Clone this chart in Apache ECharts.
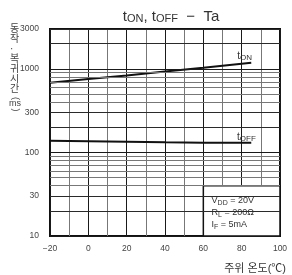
<!DOCTYPE html>
<html>
<head>
<meta charset="utf-8">
<script src="https://cdn.jsdelivr.net/npm/echarts@6/dist/echarts.min.js"></script>
<style>
  html, body { margin: 0; padding: 0; background: #fff; }
  #chart { width: 292px; height: 275px; }
</style>
</head>
<body>
<div id="chart"></div>
<script>
// 주위 온도 (°C)
var temps = [-20, 0, 20, 40, 60, 85];
// 동작 시간 t_ON
var tOn = [680, 755, 835, 930, 1030, 1180];
// 복귀 시간 t_OFF
var tOff = [138, 136, 134, 132, 131, 131];

var xLabels = [-20, 0, 20, 40, 60, 80, 100];
var yLabels = [10, 30, 100, 300, 1000, 3000];
var yGrid = [10, 20, 30, 40, 50, 60, 70, 80, 90,
             100, 200, 300, 400, 500, 600, 700, 800, 900,
             1000, 2000, 3000];

var FONT = "'Liberation Sans', 'Noto Sans CJK KR', sans-serif";

function fmtX(v) {
   if (xLabels.indexOf(v) < 0) return '';
   return v < 0 ? '\u2212' + (-v) : String(v);
}

function gridColor(v) {
   var lead = Math.round(v / Math.pow(10, Math.floor(Math.log10(v) + 1e-9)));
   if (lead === 1) return '#1a1a1a';
   if (lead === 2 || lead === 3) return '#2a2a2a';
   return '#777';
}

var gridLines = yGrid.map(function (v) {
   var hasLabel = yLabels.indexOf(v) >= 0;
   return {
      yAxis: v,
      lineStyle: { color: gridColor(v), width: 1, type: 'solid' },
      label: { show: hasLabel, formatter: String(v) }
   };
});

var subRich = {
   s: { fontSize: 8, verticalAlign: 'bottom', padding: [3, 0, 0, 0], color: '#333', fontFamily: FONT },
   t: { fontSize: 10, color: '#333', fontFamily: FONT }
};

// 세로 축 제목의 괄호 (옆으로 눕힌 모양)
function sideText(txt, y, rot) {
   return {
      type: 'text', x: 15, y: y, rotation: rot, silent: true,
      style: { text: txt, font: '9px ' + FONT, fill: '#444', align: 'center', verticalAlign: 'middle' }
   };
}

var option = {
   animation: false,
   textStyle: { fontFamily: FONT },
   title: {
      text: '{t|t}{s|ON}{t|, t}{s|OFF}{t|  \u2212  Ta}',
      left: 166,
      textAlign: 'center',
      top: 4,
      textStyle: {
         fontWeight: 'normal',
         rich: {
            t: { fontSize: 15, color: '#333', fontWeight: 'normal', fontFamily: FONT },
            s: { fontSize: 11, color: '#333', fontWeight: 'normal', verticalAlign: 'bottom', padding: [4, 0, 0, 0], fontFamily: FONT }
         }
      }
   },
   graphic: [
      {
         type: 'text',
         left: 10,
         top: 24,
         silent: true,
         style: {
            text: '동\n작\n·\n복\n귀\n시\n간',
            font: '10px ' + FONT,
            lineHeight: 10,
            fill: '#444',
            align: 'center'
         }
      },
      sideText('(', 98.5, -Math.PI / 2),
      sideText('ms', 104, 0),
      sideText(')', 110, -Math.PI / 2)
   ],
   grid: {
      left: 50, top: 29, width: 230, height: 207,
      show: true,
      borderColor: '#111',
      borderWidth: 2,
      backgroundColor: '#fff'
   },
   xAxis: {
      type: 'value',
      min: -20, max: 100, interval: 10,
      name: '주위 온도(℃)',
      nameLocation: 'end',
      nameGap: 6,
      nameTextStyle: {
         align: 'right', verticalAlign: 'top',
         padding: [27, 0, 0, 0],
         fontSize: 11, color: '#333'
      },
      axisLine: { show: false },
      axisTick: { show: false },
      axisLabel: { formatter: fmtX, fontSize: 8.5, color: '#444', margin: 8 },
      splitLine: { show: true, lineStyle: { color: ['#1a1a1a', '#777'], width: 1 } }
   },
   yAxis: {
      type: 'log', logBase: 10,
      min: 10, max: 3000,
      axisLine: { show: false },
      axisTick: { show: false },
      axisLabel: { show: false },
      splitLine: { show: false }
   },
   series: [
      {
         name: 'grid',
         type: 'line',
         data: [],
         z: 1,
         silent: true,
         markLine: {
            silent: true,
            symbol: 'none',
            animation: false,
            label: { position: 'start', distance: 11, fontSize: 8.5, color: '#444' },
            data: gridLines
         },
         markArea: {
            silent: true,
            itemStyle: { color: '#fff', borderColor: '#111', borderWidth: 1.5 },
            label: {
               show: true,
               position: 'insideTopLeft',
               distance: 7,
               padding: [3, 0, 0, 2],
               fontSize: 9,
               lineHeight: 12,
               color: '#333',
               formatter: 'V{s|DD} = 20V\nR{s|L} = 200Ω\nI{s|F} = 5mA',
               rich: {
                  s: { fontSize: 7, verticalAlign: 'bottom', padding: [3, 0, 0, 0], color: '#333', fontFamily: FONT }
               }
            },
            data: [[{ xAxis: 60, yAxis: 40 }, { xAxis: 100, yAxis: 10 }]]
         }
      },
      {
         name: 't_ON',
         type: 'line',
         z: 3,
         symbol: 'none',
         lineStyle: { color: '#111', width: 2 },
         data: temps.map(function (t, i) { return [t, tOn[i]]; }),
         markPoint: {
            symbol: 'circle', symbolSize: 0,
            label: {
               show: true, formatter: '{t|t}{s|ON}', rich: subRich
            },
            data: [{ coord: [81.5, 1420] }]
         }
      },
      {
         name: 't_OFF',
         type: 'line',
         z: 3,
         symbol: 'none',
         lineStyle: { color: '#111', width: 2 },
         data: temps.map(function (t, i) { return [t, tOff[i]]; }),
         markPoint: {
            symbol: 'circle', symbolSize: 0,
            label: {
               show: true, formatter: '{t|t}{s|OFF}', rich: subRich
            },
            data: [{ coord: [82.5, 150] }]
         }
      }
   ]
};

var dom = document.querySelector('#chart');
var myChart = echarts.init(dom);
myChart.setOption(option, true);
</script>
</body>
</html>
